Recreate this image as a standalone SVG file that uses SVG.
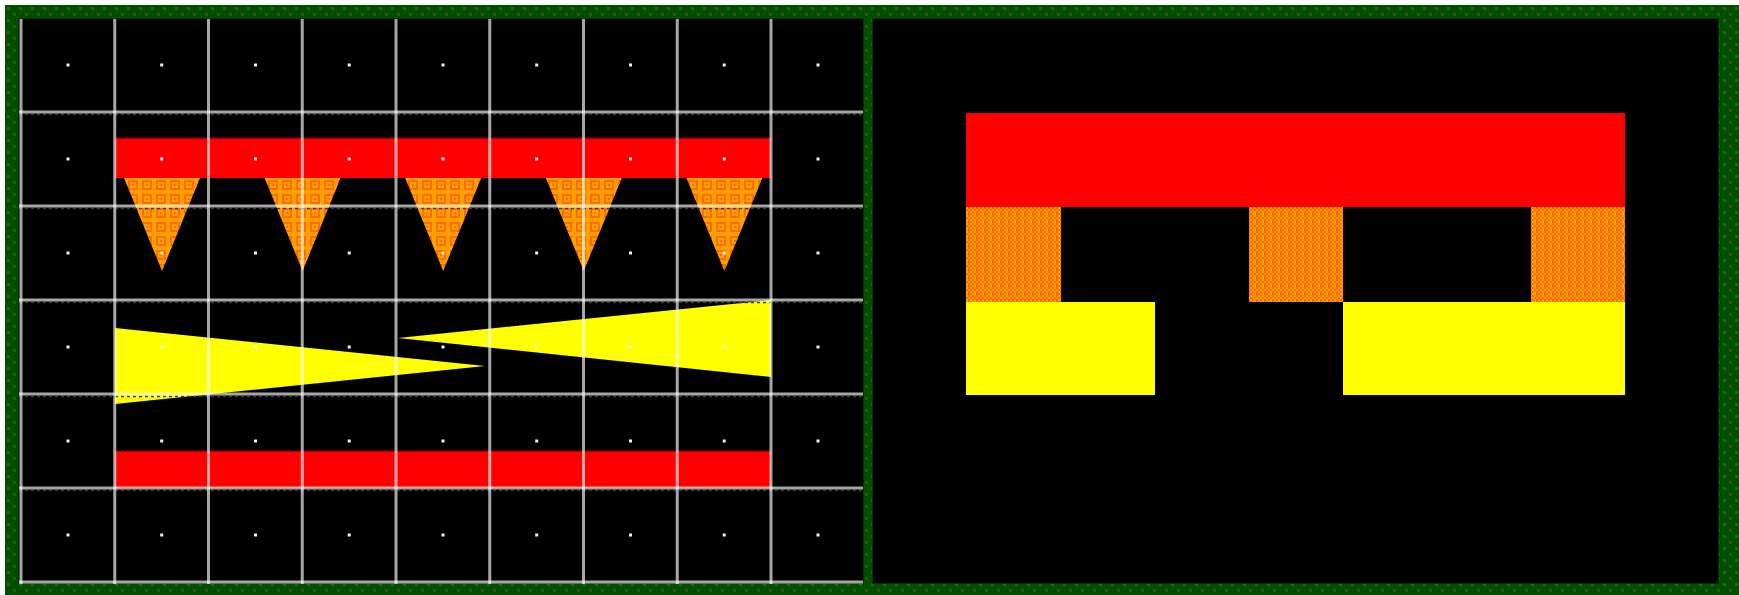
<svg xmlns="http://www.w3.org/2000/svg" width="1739" height="595" viewBox="0 0 1739 595">
  <defs>
    <pattern id="grass" x="5" y="5" width="12" height="12" patternUnits="userSpaceOnUse">
      <rect width="12" height="12" fill="#004f00"/>
      <rect x="2" y="2" width="3" height="3" fill="#356200"/>
      <rect x="8" y="8" width="3" height="3" fill="#2c5a00"/>
    </pattern>
    <pattern id="meander" x="0" y="178" width="14" height="14" patternUnits="userSpaceOnUse">
      <rect width="14" height="14" fill="#ff6c00"/>
      <rect x="1" y="1" width="12" height="12" fill="none" stroke="#ffa000" stroke-width="2"/>
      <rect x="5" y="5" width="4" height="4" fill="none" stroke="#ffa000" stroke-width="2"/>
    </pattern>
    <pattern id="checker" x="966" y="207" width="8" height="8" patternUnits="userSpaceOnUse">
      <rect width="8" height="8" fill="#ff6a00"/>
      <rect x="0" y="0" width="2" height="2" fill="#ffa000"/>
      <rect x="4" y="0" width="2" height="2" fill="#ffa000"/>
      <rect x="2" y="2" width="2" height="2" fill="#ffa000"/>
      <rect x="6" y="2" width="2" height="2" fill="#ffa000"/>
      <rect x="0" y="4" width="2" height="4" fill="#ffa000"/>
      <rect x="4" y="4" width="2" height="2" fill="#ffa000"/>
      <rect x="6" y="6" width="2" height="2" fill="#ffa000"/>
    </pattern>
    <style>
      .gl { stroke: #ffffff; stroke-opacity: 0.65; stroke-width: 3; }
      .gs { stroke: #3a3a3a; stroke-width: 1.5; stroke-dasharray: 3 3; }
      .dot { fill: #f2f2f2; }
      .red { fill: #ff0000; }
      .yel { fill: #ffff00; }
      .tri { fill: url(#meander); }
      .org { fill: url(#checker); }
    </style>
  </defs>

  <rect width="1739" height="595" fill="#ffffff"/>
  <g id="frame">
    <rect x="5" y="5" width="1734" height="590" fill="url(#grass)"/>
    <rect x="18" y="18" width="846" height="566" fill="#003400"/>
    <rect x="872" y="18" width="847" height="566" fill="#003400"/>
    <rect x="19" y="19" width="844" height="564" fill="#000000"/>
    <rect x="873" y="19" width="845" height="564" fill="#000000"/>
  </g>

  <g id="left-panel">
    <g id="shapes-left">
      <rect class="red" x="115" y="139" width="656" height="39"/>
      <rect x="115" y="137.5" width="656" height="1.5" fill="#a00000"/>
      <polygon class="tri" points="124,178 200,178 162,271"/>
      <polygon class="tri" points="264.6,178 340.6,178 302.6,271"/>
      <polygon class="tri" points="405.2,178 481.2,178 443.2,271"/>
      <polygon class="tri" points="545.8,178 621.8,178 583.8,271"/>
      <polygon class="tri" points="686.4,178 762.4,178 724.4,271"/>
      <polygon class="yel" points="115,328 485,366 115,404"/>
      <polygon class="yel" points="771,300 771,377 398,338"/>
      <rect class="red" x="115" y="452" width="656" height="36"/>
      <rect x="115" y="450.5" width="656" height="1.5" fill="#a00000"/>
    </g>
    <g id="grid">
      <g class="gs">
        <line x1="19" y1="114.5" x2="863" y2="114.5"/>
        <line x1="19" y1="208.5" x2="863" y2="208.5"/>
        <line x1="19" y1="302.5" x2="863" y2="302.5"/>
        <line x1="19" y1="396.5" x2="863" y2="396.5"/>
        <line x1="19" y1="490.5" x2="863" y2="490.5"/>
      </g>
      <g class="gl">
        <line x1="21" y1="19" x2="21" y2="584"/>
        <line x1="114.75" y1="19" x2="114.75" y2="584"/>
        <line x1="208.5" y1="19" x2="208.5" y2="584"/>
        <line x1="302.25" y1="19" x2="302.25" y2="584"/>
        <line x1="396" y1="19" x2="396" y2="584"/>
        <line x1="489.75" y1="19" x2="489.75" y2="584"/>
        <line x1="583.5" y1="19" x2="583.5" y2="584"/>
        <line x1="677.25" y1="19" x2="677.25" y2="584"/>
        <line x1="771" y1="19" x2="771" y2="584"/>
        <line x1="19" y1="112" x2="863" y2="112"/>
        <line x1="19" y1="206" x2="863" y2="206"/>
        <line x1="19" y1="300" x2="863" y2="300"/>
        <line x1="19" y1="394" x2="863" y2="394"/>
        <line x1="19" y1="488" x2="863" y2="488"/>
        <line x1="19" y1="582" x2="863" y2="582"/>
      </g>
    </g>
    <g id="dots">
      <g transform="translate(0,65)">
        <rect class="dot" x="66.5" y="-1.5" width="3" height="3"/><rect class="dot" x="160.2" y="-1.5" width="3" height="3"/><rect class="dot" x="254" y="-1.5" width="3" height="3"/><rect class="dot" x="347.7" y="-1.5" width="3" height="3"/><rect class="dot" x="441.5" y="-1.5" width="3" height="3"/><rect class="dot" x="535.2" y="-1.5" width="3" height="3"/><rect class="dot" x="629" y="-1.5" width="3" height="3"/><rect class="dot" x="722.7" y="-1.5" width="3" height="3"/><rect class="dot" x="816.5" y="-1.5" width="3" height="3"/>
      </g>
      <g transform="translate(0,159)">
        <rect class="dot" x="66.5" y="-1.5" width="3" height="3"/><rect class="dot" x="160.2" y="-1.5" width="3" height="3"/><rect class="dot" x="254" y="-1.5" width="3" height="3"/><rect class="dot" x="347.7" y="-1.5" width="3" height="3"/><rect class="dot" x="441.5" y="-1.5" width="3" height="3"/><rect class="dot" x="535.2" y="-1.5" width="3" height="3"/><rect class="dot" x="629" y="-1.5" width="3" height="3"/><rect class="dot" x="722.7" y="-1.5" width="3" height="3"/><rect class="dot" x="816.5" y="-1.5" width="3" height="3"/>
      </g>
      <g transform="translate(0,253)">
        <rect class="dot" x="66.5" y="-1.5" width="3" height="3"/><rect class="dot" x="160.2" y="-1.5" width="3" height="3"/><rect class="dot" x="254" y="-1.5" width="3" height="3"/><rect class="dot" x="347.7" y="-1.5" width="3" height="3"/><rect class="dot" x="441.5" y="-1.5" width="3" height="3"/><rect class="dot" x="535.2" y="-1.5" width="3" height="3"/><rect class="dot" x="629" y="-1.5" width="3" height="3"/><rect class="dot" x="722.7" y="-1.5" width="3" height="3"/><rect class="dot" x="816.5" y="-1.5" width="3" height="3"/>
      </g>
      <g transform="translate(0,347)">
        <rect class="dot" x="66.5" y="-1.5" width="3" height="3"/><rect class="dot" x="160.2" y="-1.5" width="3" height="3"/><rect class="dot" x="254" y="-1.5" width="3" height="3"/><rect class="dot" x="347.7" y="-1.5" width="3" height="3"/><rect class="dot" x="441.5" y="-1.5" width="3" height="3"/><rect class="dot" x="535.2" y="-1.5" width="3" height="3"/><rect class="dot" x="629" y="-1.5" width="3" height="3"/><rect class="dot" x="722.7" y="-1.5" width="3" height="3"/><rect class="dot" x="816.5" y="-1.5" width="3" height="3"/>
      </g>
      <g transform="translate(0,441)">
        <rect class="dot" x="66.5" y="-1.5" width="3" height="3"/><rect class="dot" x="160.2" y="-1.5" width="3" height="3"/><rect class="dot" x="254" y="-1.5" width="3" height="3"/><rect class="dot" x="347.7" y="-1.5" width="3" height="3"/><rect class="dot" x="441.5" y="-1.5" width="3" height="3"/><rect class="dot" x="535.2" y="-1.5" width="3" height="3"/><rect class="dot" x="629" y="-1.5" width="3" height="3"/><rect class="dot" x="722.7" y="-1.5" width="3" height="3"/><rect class="dot" x="816.5" y="-1.5" width="3" height="3"/>
      </g>
      <g transform="translate(0,535)">
        <rect class="dot" x="66.5" y="-1.5" width="3" height="3"/><rect class="dot" x="160.2" y="-1.5" width="3" height="3"/><rect class="dot" x="254" y="-1.5" width="3" height="3"/><rect class="dot" x="347.7" y="-1.5" width="3" height="3"/><rect class="dot" x="441.5" y="-1.5" width="3" height="3"/><rect class="dot" x="535.2" y="-1.5" width="3" height="3"/><rect class="dot" x="629" y="-1.5" width="3" height="3"/><rect class="dot" x="722.7" y="-1.5" width="3" height="3"/><rect class="dot" x="816.5" y="-1.5" width="3" height="3"/>
      </g>
    </g>
  </g>

  <g id="right-panel">
    <rect class="red" x="966" y="113" width="659" height="94"/>
    <rect class="org" x="966" y="207" width="95" height="95"/>
    <rect class="org" x="1249" y="207" width="94" height="95"/>
    <rect class="org" x="1531" y="207" width="94" height="95"/>
    <rect class="yel" x="966" y="302" width="189" height="93"/>
    <rect class="yel" x="1343" y="302" width="282" height="93"/>
  </g>
</svg>
